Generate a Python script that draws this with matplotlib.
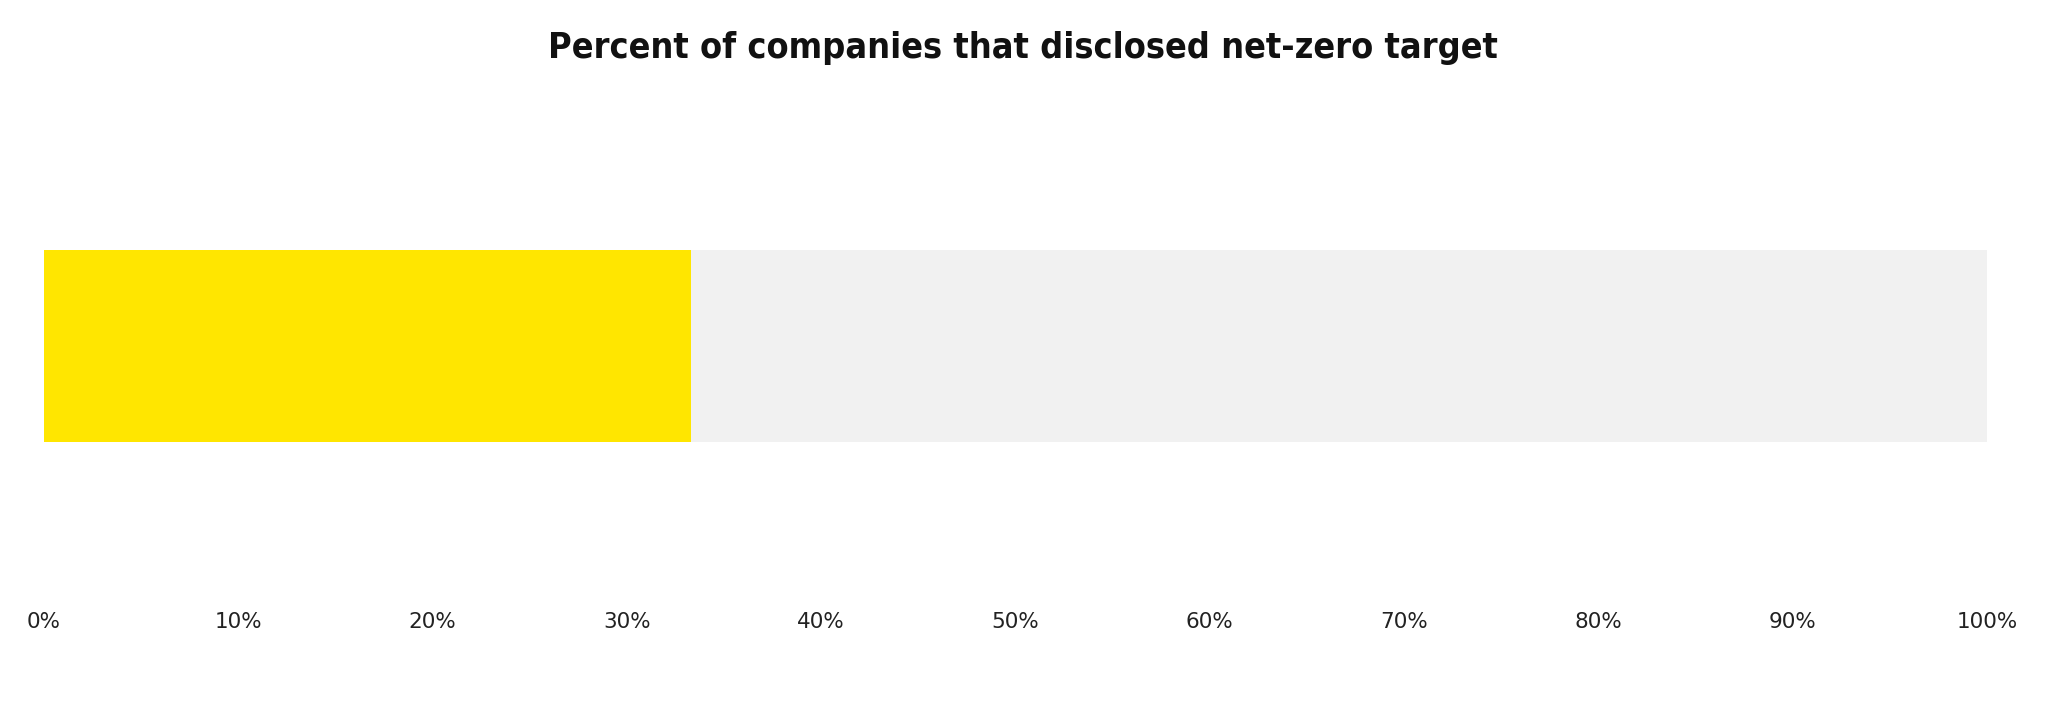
import matplotlib
matplotlib.use("Agg")
import matplotlib.pyplot as plt
from matplotlib.ticker import FuncFormatter

# data
title = "Percent of companies that disclosed net-zero target"
disclosed = [33.3]
total = [100]
ticks = list(range(0, 101, 10))

fig = plt.figure(figsize=(20.48, 7.07), dpi=100)
ax = fig.add_axes([44 / 2048, 107 / 707, (1987 - 44) / 2048, 500 / 707])

# gray background bar then the yellow share on top
ax.barh([0], total, height=0.384, color="#f1f1f1", left=0)
ax.barh([0], disclosed, height=0.384, color="#ffe600", left=0)

ax.set_xlim(0, 100)
ax.set_ylim(-0.508, 0.492)
ax.set_xticks(ticks)
ax.xaxis.set_major_formatter(FuncFormatter(lambda v, p: f"{int(v)}%"))
ax.tick_params(axis="x", length=0, pad=9, labelsize=15.5, labelcolor="#222222")
ax.set_yticks([])
for s in ax.spines.values():
    s.set_visible(False)

fig.text(1023 / 2048, 1 - 48 / 707, title, ha="center", va="center",
         fontsize=25.8, fontweight="bold", fontstretch="condensed",
         family="DejaVu Sans", color="#111111")

fig.savefig("out.png", dpi=100, facecolor="white")
